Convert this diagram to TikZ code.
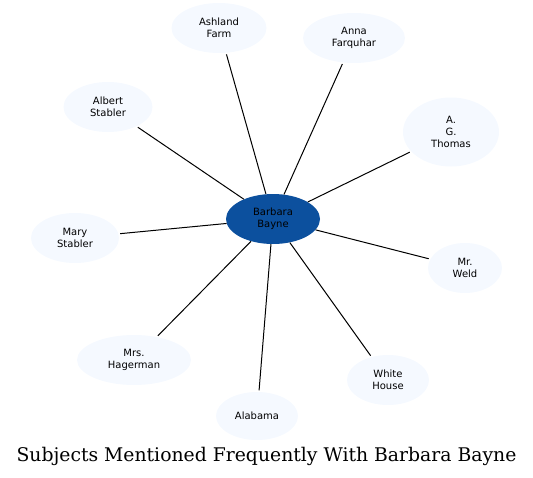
\documentclass[tikz,border=0pt]{standalone}
\usepackage{fontspec}
\setmainfont{DejaVu Sans}
\newfontfamily\titlefont{DejaVu Serif}
\usetikzlibrary{shapes.geometric}
\definecolor{centerblue}{RGB}{12,80,158}
\definecolor{leaffill}{RGB}{245,249,255}
\tikzset{
  leaf/.style={ellipse, fill=leaffill, inner sep=0pt, align=center, font=\fontsize{10}{12}\selectfont},
  hub/.style={ellipse, fill=centerblue, inner sep=0pt, align=center, font=\fontsize{10}{12}\selectfont, text=black},
  link/.style={draw=black, line width=1pt, shorten >=1.5pt}
}
\begin{document}
\begin{tikzpicture}[x=1pt,y=-1pt]
\useasboundingbox (0,0) rectangle (533,477);
\node[hub, minimum width=94pt, minimum height=50pt] (bb) at (273,219) {Barbara\\Bayne};
\node[leaf, minimum width=95pt, minimum height=50pt] (af) at (219,28) {Ashland\\Farm};
\node[leaf, minimum width=102pt, minimum height=50pt] (aq) at (354,38) {Anna\\Farquhar};
\node[leaf, minimum width=96pt, minimum height=69pt] (ag) at (451,132) {A.\\G.\\Thomas};
\node[leaf, minimum width=89pt, minimum height=50pt] (as) at (108,107) {Albert\\Stabler};
\node[leaf, minimum width=88pt, minimum height=50pt] (ms) at (75,238) {Mary\\Stabler};
\node[leaf, minimum width=74pt, minimum height=50pt] (mw) at (465,268) {Mr.\\Weld};
\node[leaf, minimum width=114pt, minimum height=50pt] (mh) at (134,360) {Mrs.\\Hagerman};
\node[leaf, minimum width=82pt, minimum height=48pt] (al) at (257,416) {Alabama};
\node[leaf, minimum width=82pt, minimum height=50pt] (wh) at (388,380) {White\\House};
\foreach \n in {af,aq,ag,as,ms,mw,mh,al,wh}{
  \draw[link] (bb) -- (\n);
}
\node[font=\titlefont\fontsize{18.8}{22}\selectfont, anchor=base] (title) at (266.5,461) {Subjects Mentioned Frequently With Barbara Bayne};
\end{tikzpicture}
\end{document}
